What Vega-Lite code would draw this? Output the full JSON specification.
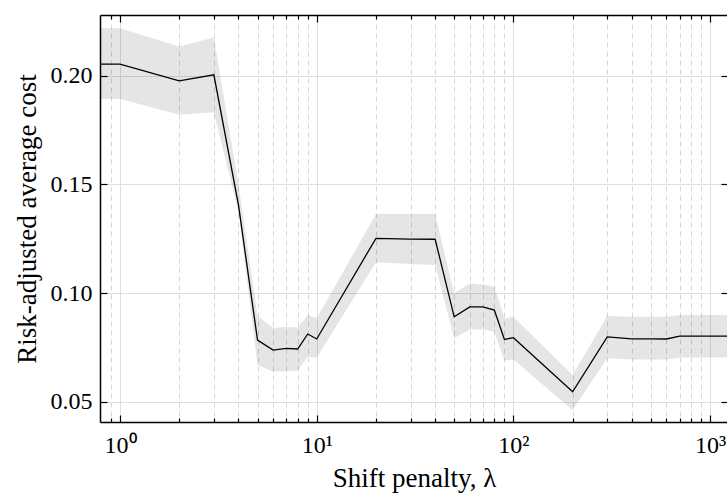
{
  "$schema": "https://vega.github.io/schema/vega-lite/v6.json",
  "width": 628,
  "height": 407,
  "autosize": {"type": "none"},
  "padding": {"left": 100, "top": 15, "right": 0, "bottom": 71},
  "background": "white",
  "config": {
    "view": {"stroke": null},
    "font": "Liberation Serif",
    "axis": {"labelFont": "Liberation Serif", "titleFont": "Liberation Serif", "labelColor": "black", "titleColor": "black", "titleFontWeight": "normal"}
  },
  "data": {"values": [
    {"lam": 0.5, "m": 0.2054, "lo": 0.1893, "hi": 0.2219},
    {"lam": 1, "m": 0.2054, "lo": 0.1893, "hi": 0.2219},
    {"lam": 2, "m": 0.1977, "lo": 0.1821, "hi": 0.2135},
    {"lam": 3, "m": 0.2005, "lo": 0.1833, "hi": 0.2176},
    {"lam": 4, "m": 0.1406, "lo": 0.1375, "hi": 0.1500},
    {"lam": 5, "m": 0.0784, "lo": 0.0669, "hi": 0.0895},
    {"lam": 6, "m": 0.0738, "lo": 0.0638, "hi": 0.0841},
    {"lam": 7, "m": 0.0746, "lo": 0.0641, "hi": 0.0844},
    {"lam": 8, "m": 0.0743, "lo": 0.0643, "hi": 0.0842},
    {"lam": 9, "m": 0.0812, "lo": 0.0707, "hi": 0.0899},
    {"lam": 10, "m": 0.0789, "lo": 0.0703, "hi": 0.0884},
    {"lam": 20, "m": 0.1252, "lo": 0.1142, "hi": 0.1364},
    {"lam": 30, "m": 0.1249, "lo": 0.1134, "hi": 0.1364},
    {"lam": 40, "m": 0.1248, "lo": 0.1129, "hi": 0.1364},
    {"lam": 50, "m": 0.0891, "lo": 0.0792, "hi": 0.0999},
    {"lam": 60, "m": 0.0937, "lo": 0.0833, "hi": 0.1045},
    {"lam": 70, "m": 0.0937, "lo": 0.0833, "hi": 0.1040},
    {"lam": 80, "m": 0.0922, "lo": 0.0822, "hi": 0.1029},
    {"lam": 90, "m": 0.0787, "lo": 0.0689, "hi": 0.0884},
    {"lam": 100, "m": 0.0795, "lo": 0.0695, "hi": 0.0891},
    {"lam": 200, "m": 0.0546, "lo": 0.0462, "hi": 0.0623},
    {"lam": 300, "m": 0.0799, "lo": 0.0700, "hi": 0.0895},
    {"lam": 400, "m": 0.0790, "lo": 0.0695, "hi": 0.0891},
    {"lam": 500, "m": 0.0790, "lo": 0.0695, "hi": 0.0891},
    {"lam": 600, "m": 0.0789, "lo": 0.0695, "hi": 0.0891},
    {"lam": 700, "m": 0.0802, "lo": 0.0704, "hi": 0.0899},
    {"lam": 800, "m": 0.0802, "lo": 0.0704, "hi": 0.0899},
    {"lam": 900, "m": 0.0802, "lo": 0.0704, "hi": 0.0899},
    {"lam": 1000, "m": 0.0802, "lo": 0.0704, "hi": 0.0899},
    {"lam": 2000, "m": 0.0802, "lo": 0.0704, "hi": 0.0899}
  ]},
  "resolve": {"axis": {"x": "independent", "y": "independent"}},
  "layer": [
    {
      "mark": {"type": "area", "color": "#000000", "opacity": 0.1, "clip": true},
      "encoding": {
        "x": {
          "field": "lam", "type": "quantitative",
          "scale": {"type": "log", "domain": [0.791, 1233], "nice": false},
          "axis": {
            "orient": "bottom",
            "values": [0.9, 1, 2, 3, 4, 5, 6, 7, 8, 9, 10, 20, 30, 40, 50, 60, 70, 80, 90, 100, 200, 300, 400, 500, 600, 700, 800, 900, 1000],
            "labelExpr": "datum.value==1?'10⁰':datum.value==10?'10¹':datum.value==100?'10²':datum.value==1000?'10³':''",
            "labelFontSize": 24,
            "labelPadding": 18,
            "labelFlush": false,
            "labelOverlap": false,
            "title": "Shift penalty, λ",
            "titleFontSize": 27,
            "titlePadding": 5,
            "grid": true,
            "gridColor": {"condition": {"test": "datum.value==1||datum.value==10||datum.value==100||datum.value==1000", "value": "#dedede"}, "value": "#d6d6d6"},
            "gridDash": {"condition": {"test": "datum.value==1||datum.value==10||datum.value==100||datum.value==1000", "value": []}, "value": [5, 4]},
            "gridWidth": 1,
            "ticks": true,
            "tickColor": "black",
            "tickWidth": 1.2,
            "tickSize": {"condition": {"test": "datum.value==1||datum.value==10||datum.value==100||datum.value==1000", "value": -7}, "value": -4},
            "domain": true,
            "domainColor": "black",
            "domainWidth": 1.5
          }
        },
        "y": {
          "field": "lo", "type": "quantitative",
          "scale": {"domain": [0.0407, 0.228], "nice": false, "zero": false},
          "axis": {
            "orient": "left",
            "values": [0.05, 0.1, 0.15, 0.2],
            "format": ".2f",
            "labelFontSize": 24,
            "labelPadding": 15,
            "title": "Risk-adjusted average cost",
            "titleFontSize": 27,
            "titlePadding": 9,
            "grid": true,
            "gridColor": "#dedede",
            "gridWidth": 1,
            "tickColor": "black",
            "tickWidth": 1.2,
            "tickSize": -7,
            "domain": true,
            "domainColor": "black",
            "domainWidth": 1.5
          }
        },
        "y2": {"field": "hi"}
      }
    },
    {
      "mark": {"type": "line", "color": "black", "strokeWidth": 1.3, "clip": true},
      "encoding": {
        "x": {
          "field": "lam", "type": "quantitative",
          "axis": {
            "orient": "top",
            "values": [0.9, 1, 2, 3, 4, 5, 6, 7, 8, 9, 10, 20, 30, 40, 50, 60, 70, 80, 90, 100, 200, 300, 400, 500, 600, 700, 800, 900, 1000],
            "labels": false,
            "title": null,
            "grid": false,
            "tickColor": "black",
            "tickWidth": 1.2,
            "tickSize": {"condition": {"test": "datum.value==1||datum.value==10||datum.value==100||datum.value==1000", "value": -7}, "value": -4},
            "domain": true,
            "domainColor": "black",
            "domainWidth": 1.5
          }
        },
        "y": {
          "field": "m", "type": "quantitative",
          "axis": {
            "orient": "right",
            "values": [0.05, 0.1, 0.15, 0.2],
            "labels": false,
            "title": null,
            "grid": false,
            "tickColor": "black",
            "tickWidth": 1.2,
            "tickSize": -7,
            "domain": true,
            "domainColor": "black",
            "domainWidth": 1.5
          }
        }
      }
    }
  ]
}
